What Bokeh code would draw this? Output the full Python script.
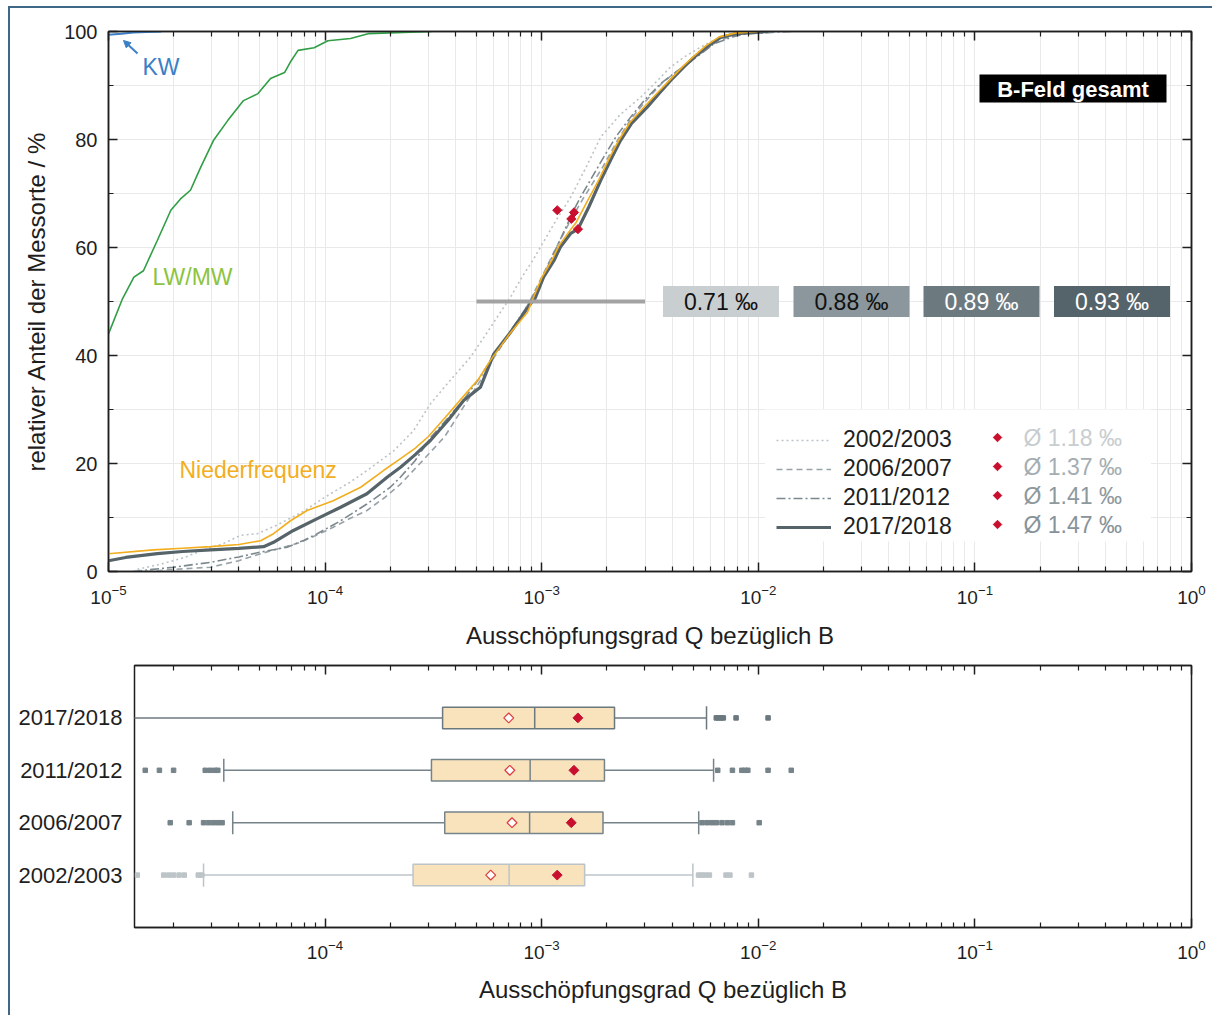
import math
from bokeh.plotting import figure
from bokeh.models import (Range1d, FixedTicker, LogAxis, LinearAxis, CustomJSTickFormatter,
                          Legend, LegendItem, Arrow, NormalHead, ColumnDataSource)
from bokeh.layouts import column
from bokeh.core.properties import value
from bokeh.embed import file_html
from bokeh.resources import INLINE

# ------------------------------------------------------------------ data
years = ["2002/2003", "2006/2007", "2011/2012", "2017/2018"]
medians_permille = [0.71, 0.88, 0.89, 0.93]
means_permille = [1.18, 1.37, 1.41, 1.47]
mean_cdf_pct = [66.9, 65.3, 66.5, 63.4]

cdf_2002_q = [1.36e-5, 1.8e-5, 2.24e-5, 2.75e-5, 3.4e-5, 4.07e-5, 4.86e-5, 6.0e-5, 8.0e-5, 1.0e-4,
              1.3e-4, 1.6e-4, 2.08e-4, 2.55e-4, 3.07e-4, 3.8e-4, 4.69e-4, 5.5e-4, 6.23e-4, 7.18e-4,
              8.1e-4, 9.16e-4, 9.87e-4, 1.18e-3, 1.36e-3, 1.6e-3, 1.87e-3, 2.3e-3, 2.86e-3, 3.4e-3,
              3.93e-3, 4.6e-3, 5.41e-3, 6.2e-3, 7.18e-3, 8.2e-3, 9.3e-3]
cdf_2002_p = [0.4, 1.5, 2.6, 4.0, 5.2, 6.7, 7.0, 8.6, 11.2, 13.8,
              16.5, 19.0, 22.4, 26.0, 31.1, 35.5, 39.7, 43.8, 47.1, 50.8,
              54.5, 57.8, 60.1, 65.4, 69.3, 74.8, 80.4, 84.6, 87.8, 90.8,
              93.4, 95.4, 97.1, 98.3, 99.3, 99.7, 100.0]

cdf_2006_q = [1.5e-5, 2.22e-5, 2.96e-5, 4.0e-5, 5.04e-5, 6.2e-5, 7.69e-5, 9.2e-5, 1.09e-4, 1.3e-4,
              1.56e-4, 1.9e-4, 2.23e-4, 2.8e-4, 3.57e-4, 4.6e-4, 5.3e-4, 6.1e-4, 7.0e-4, 7.7e-4,
              8.8e-4, 1.0e-3, 1.15e-3, 1.37e-3, 1.55e-3, 1.92e-3, 2.25e-3, 2.6e-3, 3.1e-3, 3.6e-3,
              4.2e-3, 4.8e-3, 5.5e-3, 6.3e-3, 7.2e-3, 8.0e-3, 1.01e-2]
cdf_2006_p = [0.0, 0.5, 0.8, 2.0, 3.3, 4.3, 5.4, 6.8, 8.2, 9.8,
              11.3, 13.8, 16.2, 20.4, 25.0, 32.0, 35.8, 40.0, 43.6, 46.0,
              50.0, 54.5, 59.5, 65.3, 69.0, 75.0, 80.0, 84.0, 87.6, 90.5,
              92.6, 94.2, 96.2, 97.8, 98.9, 99.4, 100.0]

cdf_2011_q = [1.3e-5, 1.6e-5, 2.0e-5, 2.96e-5, 4.0e-5, 5.04e-5, 6.68e-5, 8.0e-5, 9.2e-5, 1.18e-4,
              1.56e-4, 2.0e-4, 2.23e-4, 2.6e-4, 3.1e-4, 3.7e-4, 4.4e-4, 5.2e-4, 6.0e-4, 7.6e-4,
              8.85e-4, 1.0e-3, 1.14e-3, 1.41e-3, 1.51e-3, 1.93e-3, 2.2e-3, 2.57e-3, 3.0e-3, 3.53e-3,
              4.1e-3, 4.7e-3, 5.4e-3, 6.23e-3, 7.6e-3, 8.89e-3, 1.11e-2, 1.42e-2]
cdf_2011_p = [0.0, 0.4, 0.8, 1.7, 2.7, 3.6, 4.5, 5.8, 7.0, 9.4,
              12.5, 15.6, 17.5, 20.5, 25.0, 28.5, 32.0, 36.0, 40.0, 46.0,
              50.0, 54.0, 59.0, 67.0, 69.3, 76.7, 80.5, 84.1, 87.4, 90.3,
              92.3, 94.0, 95.8, 97.7, 99.0, 99.6, 99.8, 100.0]

cdf_2017_q = [1.0e-5, 1.2e-5, 1.68e-5, 2.2e-5, 2.96e-5, 4.0e-5, 5.2e-5, 5.78e-5, 7.14e-5, 9.2e-5,
              1.18e-4, 1.56e-4, 1.94e-4, 2.23e-4, 2.6e-4, 3.07e-4, 3.7e-4, 4.37e-4, 5.21e-4, 6.01e-4,
              7.18e-4, 8.88e-4, 9.3e-4, 1.02e-3, 1.14e-3, 1.22e-3, 1.36e-3, 1.47e-3, 1.65e-3, 1.87e-3,
              2.1e-3, 2.31e-3, 2.6e-3, 3.07e-3, 3.5e-3, 3.93e-3, 4.5e-3, 5.04e-3, 5.8e-3, 6.7e-3,
              7.9e-3, 1.11e-2]
cdf_2017_p = [2.0, 2.6, 3.3, 3.7, 4.0, 4.3, 4.6, 5.4, 7.6, 9.8,
              11.9, 14.4, 17.5, 19.3, 21.6, 24.3, 28.0, 31.7, 34.1, 40.3,
              44.3, 49.6, 50.5, 54.5, 57.6, 60.1, 62.6, 63.4, 67.5, 72.4,
              76.5, 79.8, 83.0, 86.0, 88.6, 90.9, 93.3, 95.2, 97.2, 98.9,
              99.6, 100.0]

nf_q = [1.0e-5, 1.61e-5, 2.2e-5, 2.96e-5, 4.0e-5, 5.04e-5, 5.78e-5, 6.92e-5, 8.26e-5, 1.09e-4,
        1.46e-4, 1.86e-4, 2.23e-4, 2.6e-4, 3.0e-4, 3.6e-4, 4.3e-4, 5.1e-4, 5.8e-4, 7.1e-4,
        8.6e-4, 9.0e-4, 1.0e-3, 1.12e-3, 1.2e-3, 1.33e-3, 1.44e-3, 1.62e-3, 1.84e-3, 2.06e-3,
        2.28e-3, 2.56e-3, 3.0e-3, 3.45e-3, 3.9e-3, 4.45e-3, 5.0e-3, 5.7e-3, 6.6e-3, 7.8e-3, 1.0e-2]
nf_p = [3.3, 4.0, 4.3, 4.6, 5.0, 5.7, 7.0, 9.4, 11.3, 13.1,
        15.6, 18.7, 20.9, 22.8, 25.0, 28.6, 32.2, 35.6, 39.1, 44.0,
        48.0, 50.0, 54.4, 57.8, 60.3, 62.8, 64.6, 68.5, 72.6, 76.7,
        80.0, 83.2, 86.2, 88.8, 91.0, 93.4, 95.3, 97.3, 99.0, 99.7, 100.0]

lwmw_q = [1.0e-5, 1.16e-5, 1.31e-5, 1.45e-5, 1.68e-5, 1.94e-5, 2.15e-5, 2.39e-5, 2.66e-5, 3.05e-5,
          3.55e-5, 4.2e-5, 4.9e-5, 5.6e-5, 6.5e-5, 6.9e-5, 7.5e-5, 8.9e-5, 1.03e-4, 1.31e-4,
          1.58e-4, 3.1e-4]
lwmw_p = [44.0, 50.5, 54.5, 55.7, 61.3, 66.9, 69.0, 70.6, 74.8, 79.8,
          83.5, 87.2, 88.5, 91.3, 92.4, 94.3, 96.5, 97.0, 98.3, 98.7,
          99.6, 100.0]

kw_q = [1.0e-5, 1.15e-5, 1.3e-5, 1.5e-5, 1.75e-5]
kw_p = [99.4, 99.6, 99.8, 99.9, 100.0]

median_bar_q = [5.0e-4, 3.0e-3]
median_bar_p = [50, 50]

# box plot statistics (Q values), order = years
box_q1 = [2.55e-4, 3.57e-4, 3.10e-4, 3.49e-4]
box_med = [7.08e-4, 8.80e-4, 8.85e-4, 9.29e-4]
box_q3 = [1.58e-3, 1.92e-3, 1.95e-3, 2.17e-3]
whisk_lo = [2.75e-5, 3.75e-5, 3.41e-5, 1.0e-5]
whisk_hi = [4.99e-3, 5.31e-3, 6.22e-3, 5.77e-3]
box_open = [5.82e-4, 7.30e-4, 7.13e-4, 7.05e-4]
box_mean = [m * 1e-3 for m in means_permille]
outliers = {
    "2002/2003": [1.36e-5, 1.8e-5, 1.9e-5, 2.0e-5, 2.12e-5, 2.24e-5, 2.6e-5, 2.7e-5,
                  5.3e-3, 5.5e-3, 5.7e-3, 5.95e-3, 7.1e-3, 7.4e-3, 9.3e-3],
    "2006/2007": [1.93e-5, 2.36e-5, 2.75e-5, 2.9e-5, 3.05e-5, 3.2e-5, 3.35e-5,
                  5.5e-3, 5.8e-3, 6.1e-3, 6.4e-3, 6.8e-3, 7.2e-3, 7.6e-3, 1.01e-2],
    "2011/2012": [1.48e-5, 1.72e-5, 2.0e-5, 2.8e-5, 2.95e-5, 3.1e-5, 3.2e-5,
                  6.5e-3, 7.6e-3, 8.4e-3, 8.7e-3, 8.95e-3, 1.11e-2, 1.42e-2],
    "2017/2018": [6.4e-3, 6.55e-3, 6.75e-3, 6.9e-3, 7.9e-3, 1.11e-2],
}

# ------------------------------------------------------------------ style
FONT = "Liberation Sans"
INK = "#1e1e1e"
GRID = "#e9e9e9"
RED = "#c8102e"
KW_C = "#3b80c6"
LW_LINE = "#2f9e45"
LW_TEXT = "#8cc43f"
NF_C = "#f2ae1e"
year_line = [
    dict(color="#bcc3c7", dash="2 3", width=1.6),
    dict(color="#98a2a7", dash="6 4", width=1.6),
    dict(color="#7c888e", dash="9 3 2 3", width=1.6),
    dict(color="#56646a", dash="solid", width=3.2),
]
MED_FILLS = ["#c9ced1", "#8b979c", "#6c7a80", "#55636a"]
MED_TEXT = ["#111111", "#111111", "#ffffff", "#ffffff"]
MEAN_TEXT = ["#c8cdd0", "#a4aeb2", "#8e999e", "#87939a"]
BOX_LINE = ["#bcc4c8", "#76848a", "#76848a", "#6b797f"]

# page geometry of the upper frame (used only to place annotations)
FL, FR, FT, FB = 108.0, 1191.0, 31.0, 571.0


def sx(px):
    return 10 ** (-5 + 5 * (px - FL) / (FR - FL))


def sy(py):
    return 100 * (FB - py) / (FB - FT)


blank = CustomJSTickFormatter(code="return ''")


def style_axis(ax, size="19px"):
    ax.major_tick_in = 9
    ax.major_tick_out = 0
    ax.minor_tick_in = 5
    ax.minor_tick_out = 0
    ax.axis_line_color = INK
    ax.axis_line_width = 1.5
    ax.major_tick_line_color = INK
    ax.major_tick_line_width = 1.5
    ax.minor_tick_line_color = INK
    ax.minor_tick_line_width = 1.2
    ax.major_label_text_font = FONT
    ax.major_label_text_font_size = size
    ax.major_label_text_color = INK
    ax.axis_label_text_font = FONT
    ax.axis_label_text_font_size = "24px"
    ax.axis_label_text_font_style = "normal"
    ax.axis_label_text_color = INK


X_TITLE = "Ausschöpfungsgrad Q bezüglich B"

# ------------------------------------------------------------------ upper chart
majors_top = [10.0 ** e for e in range(-5, 1)]
minors_top = [k * 10.0 ** e for e in range(-5, 0) for k in range(2, 10)]
xt_top = FixedTicker(ticks=majors_top, minor_ticks=minors_top)
yt = FixedTicker(ticks=[0, 20, 40, 60, 80, 100], minor_ticks=[10, 30, 50, 70, 90])

p = figure(width=1202, height=649, x_axis_type="log",
           x_range=Range1d(1e-5, 1), y_range=Range1d(0, 100),
           output_backend="svg", toolbar_location=None, frame_align=False,
           min_border_left=98, min_border_right=21, min_border_top=23, min_border_bottom=86)
p.outline_line_color = INK
p.outline_line_width = 1.5

bx = p.below[0]
bx.ticker = xt_top
style_axis(bx, "19px")
bx.axis_label = X_TITLE
bx.major_label_standoff = 13
bx.axis_label_standoff = 15

ly = p.left[0]
ly.ticker = yt
style_axis(ly, "20px")
ly.axis_label = "relativer Anteil der Messorte / %"
ly.major_label_standoff = 11
ly.axis_label_standoff = 11

ax_top = LogAxis(ticker=xt_top, formatter=blank)
style_axis(ax_top)
p.add_layout(ax_top, "above")
ax_r = LinearAxis(ticker=yt, formatter=blank)
style_axis(ax_r)
p.add_layout(ax_r, "right")

p.xgrid.grid_line_color = GRID
p.xgrid.minor_grid_line_color = GRID
p.ygrid.ticker = yt
p.ygrid.grid_line_color = GRID
p.ygrid.minor_grid_line_color = GRID

# white panel behind the legend (hides the grid there)
p.rect([sx(957.5)], [sy(475)], width=386, height=132, width_units="screen",
       height_units="screen", fill_color="white", line_color=None)

# CDF curves
cdf_q = [cdf_2002_q, cdf_2006_q, cdf_2011_q, cdf_2017_q]
cdf_p = [cdf_2002_p, cdf_2006_p, cdf_2011_p, cdf_2017_p]
year_rend = []
for i in range(3):
    st = year_line[i]
    year_rend.append(p.line(cdf_q[i], cdf_p[i], line_color=st["color"], line_dash=st["dash"],
                            line_width=st["width"]))
p.line(lwmw_q, lwmw_p, line_color=LW_LINE, line_width=1.6)
p.line(kw_q, kw_p, line_color=KW_C, line_width=2)
st = year_line[3]
year_rend.append(p.line(cdf_q[3], cdf_p[3], line_color=st["color"], line_width=st["width"]))
p.line(nf_q, nf_p, line_color=NF_C, line_width=1.6)

# median marker and mean points
p.line(median_bar_q, median_bar_p, line_color="#a3a3a3", line_width=4)
p.scatter([m * 1e-3 for m in means_permille], mean_cdf_pct, marker="square", angle=math.pi / 4,
          size=6.5, color=RED)

# median value boxes
med_src = ColumnDataSource(dict(
    x=[sx(c) for c in (720.5, 851.0, 981.0, 1111.5)], y=[50, 50, 50, 50],
    fill=MED_FILLS, tc=MED_TEXT, text=[f"{m:.2f} ‰" for m in medians_permille]))
p.rect("x", "y", width=116, height=31, width_units="screen", height_units="screen",
       fill_color="fill", line_color=None, source=med_src)
p.text("x", "y", text="text", text_color="tc", text_align="center", text_baseline="middle",
       text_font=value(FONT), text_font_size="23px", source=med_src)

# title box
p.rect([sx(1072.5)], [sy(88)], width=187, height=28, width_units="screen", height_units="screen",
       fill_color="black", line_color=None)
p.text([sx(1072.5)], [sy(88.5)], text=["B-Feld gesamt"], text_color="white", text_align="center",
       text_baseline="middle", text_font=value(FONT), text_font_size="22px",
       text_font_style="bold")

# curve labels
p.text([sx(142)], [sy(66)], text=["KW"], text_color=KW_C, text_baseline="middle",
       text_font=value(FONT), text_font_size="23px")
p.text([sx(152)], [sy(276)], text=["LW/MW"], text_color=LW_TEXT, text_baseline="middle",
       text_font=value(FONT), text_font_size="23px")
p.text([sx(179)], [sy(469)], text=["Niederfrequenz"], text_color=NF_C, text_baseline="middle",
       text_font=value(FONT), text_font_size="23px")
p.add_layout(Arrow(end=NormalHead(size=7, fill_color=KW_C, line_color=KW_C),
                   x_start=sx(137), y_start=sy(53), x_end=sx(123), y_end=sy(40),
                   line_color=KW_C, line_width=2))

# legend
legend = Legend(items=[LegendItem(label=y, renderers=[r]) for y, r in zip(years, year_rend)],
                location=(668, 31), glyph_width=55, glyph_height=24, label_height=24,
                spacing=2, padding=10, label_standoff=12, label_width=120, margin=0,
                label_text_font=FONT, label_text_font_size="23px", label_text_color=INK,
                background_fill_alpha=0.0, border_line_color=None)
p.add_layout(legend)
rows_py = [437.0, 466.0, 495.0, 524.0]
leg_src = ColumnDataSource(dict(
    x=[sx(997)] * 4, tx=[sx(1023)] * 4, y=[sy(r) for r in rows_py],
    text=[f"Ø {m:.2f} ‰" for m in means_permille], tc=MEAN_TEXT))
p.scatter("x", "y", marker="square", angle=math.pi / 4, size=6, color=RED, source=leg_src)
p.text("tx", "y", text="text", text_color="tc", text_baseline="middle", text_font=value(FONT),
       text_font_size="23px", source=leg_src)

# ------------------------------------------------------------------ lower chart (box plots)
majors_b = [10.0 ** e for e in range(-4, 1)]
minors_b = [k * 10.0 ** e for e in range(-5, 0) for k in range(2, 10) if k * 10.0 ** e >= 1.4e-5]
xt_b = FixedTicker(ticks=majors_b, minor_ticks=minors_b)

pb = figure(width=1202, height=358, x_axis_type="log",
            x_range=Range1d(1.32e-5, 1), y_range=Range1d(0, 5),
            output_backend="svg", toolbar_location=None, frame_align=False,
            min_border_left=124, min_border_right=21, min_border_top=8, min_border_bottom=88)
pb.outline_line_color = INK
pb.outline_line_width = 1.5
pb.grid.visible = False

bb = pb.below[0]
bb.ticker = xt_b
style_axis(bb, "19px")
bb.axis_label = X_TITLE
bb.major_label_standoff = 12
bb.axis_label_standoff = 14
bt = LogAxis(ticker=xt_b, formatter=blank)
style_axis(bt)
pb.add_layout(bt, "above")

pos = [i + 1 for i in range(len(years))]
lb = pb.left[0]
lb.ticker = FixedTicker(ticks=pos, minor_ticks=[])
lb.formatter = CustomJSTickFormatter(args=dict(labels=years),
                                     code="return labels[Math.round(tick) - 1] || ''")
style_axis(lb, "22px")
lb.major_tick_line_color = None
lb.minor_tick_line_color = None
lb.axis_line_color = None
lb.major_label_standoff = 12

H = 0.41
pb.segment(x0=whisk_lo, x1=box_q1, y0=pos, y1=pos, line_color=BOX_LINE, line_width=1.5)
pb.segment(x0=box_q3, x1=whisk_hi, y0=pos, y1=pos, line_color=BOX_LINE, line_width=1.5)
pb.segment(x0=whisk_lo, x1=whisk_lo, y0=[v - 0.22 for v in pos], y1=[v + 0.22 for v in pos],
           line_color=BOX_LINE, line_width=1.5)
pb.segment(x0=whisk_hi, x1=whisk_hi, y0=[v - 0.22 for v in pos], y1=[v + 0.22 for v in pos],
           line_color=BOX_LINE, line_width=1.5)
ox, oy, oc = [], [], []
for i, yr in enumerate(years):
    for v in outliers[yr]:
        ox.append(v)
        oy.append(pos[i])
        oc.append(BOX_LINE[i])
pb.scatter(ox, oy, marker="square", size=4.5, color=oc)
pb.hbar(y=pos, left=box_q1, right=box_q3, height=H, fill_color="#f8e3bd",
        line_color=BOX_LINE, line_width=1.5)
pb.segment(x0=box_med, x1=box_med, y0=[v - H / 2 for v in pos], y1=[v + H / 2 for v in pos],
           line_color=BOX_LINE, line_width=1.5)
pb.scatter(box_open, pos, marker="square", angle=math.pi / 4, size=7, fill_color="white",
           line_color="#e0403f", line_width=1.3)
pb.scatter(box_mean, pos, marker="square", angle=math.pi / 4, size=7, color=RED)

layout = column(p, pb, margin=(6, 0, 0, 8),
                styles={"border-top": "2px solid #3e6886", "border-left": "2px solid #3e6886"})

open("out.html", "w").write(file_html(layout, INLINE))
